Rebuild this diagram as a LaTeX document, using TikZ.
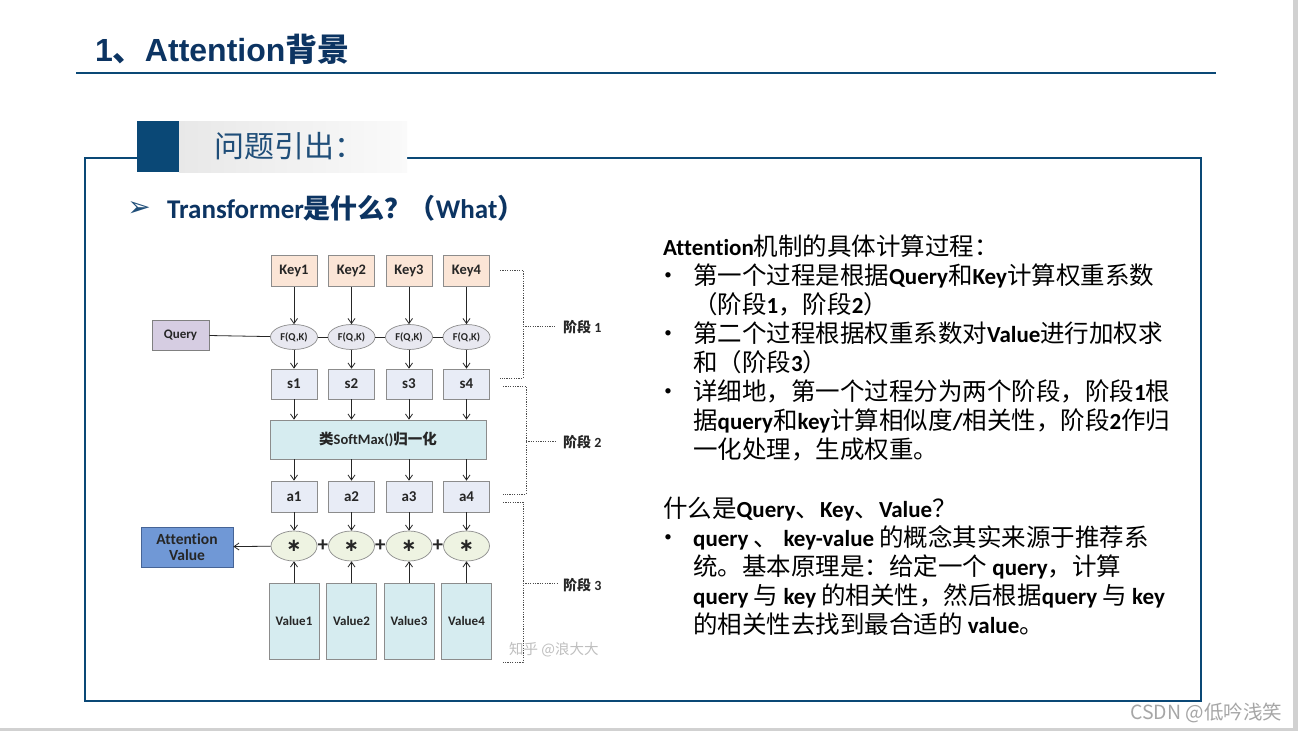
\documentclass[tikz,border=0pt]{standalone}
\usepackage{fontspec}
\setmainfont{Carlito}[Ligatures=NoCommon]
\newfontfamily\cjk{Noto Sans CJK SC}
\newfontfamily\arialf{Liberation Sans}
\newfontfamily\dejavu{DejaVu Sans}
\usetikzlibrary{arrows.meta,shapes.geometric,calc}
\definecolor{navy}{RGB}{12,52,98}
\definecolor{tabtext}{RGB}{31,78,121}
\definecolor{frameblue}{RGB}{10,72,118}
\definecolor{keyfill}{RGB}{251,229,214}
\definecolor{sfill}{RGB}{232,236,246}
\definecolor{ffill}{RGB}{232,232,240}
\definecolor{qfill}{RGB}{214,205,226}
\definecolor{cyanfill}{RGB}{214,236,240}
\definecolor{mfill}{RGB}{238,243,226}
\definecolor{avfill}{RGB}{112,152,214}
\definecolor{avborder}{RGB}{70,100,150}
\definecolor{bordergray}{RGB}{140,140,140}
\newcommand{\fsz}[1]{\fontsize{#1}{#1}\selectfont}
\newcommand{\R}[1]{{\cjk\mdseries\fontsize{24.5}{29}\selectfont #1}}
\begin{document}
\begin{tikzpicture}[x=1pt,y=-1pt,
 bx/.style={draw=bordergray, line width=0.7pt, inner sep=0pt, font=\bfseries\fsz{14.5}, text=black!85},
 keybox/.style={bx, fill=keyfill, minimum width=46pt, minimum height=31pt},
 sbox/.style={bx, fill=sfill, minimum width=46pt, minimum height=30pt, font=\bfseries\fsz{15}},
 fell/.style={ellipse, draw=bordergray, line width=0.7pt, fill=ffill, minimum width=47pt, minimum height=25pt, inner sep=0pt, font=\bfseries\fsz{10.5}, text=black!85},
 mell/.style={ellipse, draw=bordergray, line width=0.7pt, fill=mfill, minimum width=46pt, minimum height=30pt, inner sep=0pt, font=\dejavu\bfseries\fsz{18}, text=black!85},
 vbox/.style={bx, fill=cyanfill, minimum width=50pt, minimum height=76pt, font=\bfseries\fsz{13}},
 arr/.style={-{Straight Barb[length=5pt,width=7pt]}, line width=0.8pt, draw=black!85},
 plainln/.style={line width=0.8pt, draw=black!85},
 brk/.style={line width=1pt, draw=black!70, dash pattern=on 1.2pt off 1.2pt},
 stagelbl/.style={anchor=west, inner sep=0pt, font=\bfseries\fsz{14}, text=black!85},
 rt/.style={anchor=base west, inner sep=0pt, font=\bfseries\fsz{23}, text=black},
 bul/.style={inner sep=0pt, font=\fsz{15}, text=black},
 plus/.style={inner sep=0pt, font=\bfseries\fsz{21}, text=black!85}
]
\useasboundingbox (0,0) rectangle (1298,731);
\fill[white] (0,0) rectangle (1298,731);
\fill[black!18] (1293,0) rectangle (1298,731);
\fill[black!18] (0,728) rectangle (1298,731);

% title
\node[anchor=base west, inner sep=0pt, text=navy, font=\arialf\bfseries\fsz{32}] (title) at (95,61) {1{\cjk 、}Attention{\cjk 背景}};
\coordinate (ulA) at (76,73);
\coordinate (ulB) at (1216,73);
\draw[line width=2pt, draw=frameblue] (ulA) -- (ulB);

% frame
\draw[line width=2pt, draw=frameblue] (85,158) rectangle (1201,701);

% tab
\fill[left color=black!9, right color=black!2] (179,121) rectangle (407,172);
\fill[frameblue] (137,121) rectangle (179,172);
\node[anchor=west, inner sep=0pt, text=tabtext, font=\cjk\fsz{30}] (tab) at (214,146) {问题引出：};

% subheading
\node[inner sep=0pt, text=tabtext, font=\dejavu\fsz{28}] (arrowbullet) at (139,209) {➢};
\node[anchor=base west, inner sep=0pt, text=navy, font=\bfseries\fsz{27}] (sub) at (167,218) {Transformer{\cjk 是什么？\hspace{-3pt}（}What{\cjk ）}};

% ---------- diagram ----------
\foreach \i/\x in {1/294,2/351.5,3/409,4/466.5}{
  \node[keybox] (k\i) at (\x,271) {Key\i};
  \node[fell] (f\i) at (\x,337) {F(Q,K)};
  \node[sbox] (s\i) at (\x,384) {s\i};
  \node[sbox, minimum height=31pt] (a\i) at (\x,496.5) {a\i};
  \node[mell] (m\i) at (\x,546) {∗};
  \node[vbox] (v\i) at (\x,621) {Value\i};
}
\node[bx, fill=qfill, draw=black!50, minimum width=57pt, minimum height=30pt, font=\bfseries\fsz{13}] (q) at (180.5,335) {Query};
\node[bx, fill=cyanfill, minimum width=216pt, minimum height=39pt] (sm) at (378,439.5) {{\cjk 类}SoftMax(){\cjk 归一化}};
\node[bx, fill=avfill, draw=avborder, minimum width=92pt, minimum height=40pt, align=center, font=\bfseries\fontsize{15.5}{16}\selectfont] (av) at (187,547) {Attention\\Value};

\draw[plainln] (q) -- (f1);
\draw[plainln] (f1) -- (f2);
\draw[plainln] (f2) -- (f3);
\draw[plainln] (f3) -- (f4);
\foreach \i in {1,2,3,4}{
  \draw[arr] (k\i) -- (f\i);
  \draw[arr] (f\i) -- (s\i);
  \draw[arr] (s\i.south) -- (s\i.south |- sm.north);
  \draw[arr] (a\i.north |- sm.south) -- (a\i.north);
  \draw[arr] (a\i) -- (m\i);
  \draw[arr] (v\i) -- (m\i);
}
\draw[arr] (m1) -- (av);
\node[plus] (p1) at ($(m1.east)!0.5!(m2.west)$) {+};
\node[plus] (p2) at ($(m2.east)!0.5!(m3.west)$) {+};
\node[plus] (p3) at ($(m3.east)!0.5!(m4.west)$) {+};

% stage brackets
\coordinate (b1a) at (500,270); \coordinate (b1b) at (523,270);
\coordinate (b1c) at (523,378); \coordinate (b1d) at (500,378);
\coordinate (b1m) at (523,326); \coordinate (b1t) at (555,326);
\draw[brk] (b1a) -- (b1b) -- (b1c) -- (b1d);
\draw[brk] (b1m) -- (b1t);
\node[stagelbl] (st1) at (563,327) {{\cjk 阶段} 1};

\coordinate (b2a) at (503,386); \coordinate (b2b) at (526,386);
\coordinate (b2c) at (526,494); \coordinate (b2d) at (503,494);
\coordinate (b2m) at (526,441); \coordinate (b2t) at (555,441);
\draw[brk] (b2a) -- (b2b) -- (b2c) -- (b2d);
\draw[brk] (b2m) -- (b2t);
\node[stagelbl] (st2) at (563,442) {{\cjk 阶段} 2};

\coordinate (b3a) at (503,502); \coordinate (b3b) at (523,502);
\coordinate (b3c) at (523,662); \coordinate (b3d) at (503,662);
\coordinate (b3m) at (523,583); \coordinate (b3t) at (557,583);
\draw[brk] (b3a) -- (b3b) -- (b3c) -- (b3d);
\draw[brk] (b3m) -- (b3t);
\node[stagelbl] (st3) at (563,585) {{\cjk 阶段} 3};

\node[anchor=west, inner sep=0pt, text=black!25, font=\cjk\fsz{14.5}] (wm1) at (509,650) {知乎 @浪大大};

% ---------- right text ----------
\node[rt] (r1) at (663,255) {Attention\R{机制的具体计算过程：}};
\node[bul] (bu1) at (668,276) {•};
\node[rt] (r2) at (693,284) {\R{第一个过程是根据}Query\R{和}Key\R{计算权重系数}};
\node[rt] (r3) at (693,313) {\R{（阶段}1\R{，阶段}2\R{）}};
\node[bul] (bu2) at (668,334) {•};
\node[rt] (r4) at (693,342) {\R{第二个过程根据权重系数对}Value\R{进行加权求}};
\node[rt] (r5) at (693,371) {\R{和（阶段}3\R{）}};
\node[bul] (bu3) at (668,392) {•};
\node[rt] (r6) at (693,400) {\R{详细地，第一个过程分为两个阶段，阶段}1\R{根}};
\node[rt] (r7) at (693,429) {\R{据}query\R{和}key\R{计算相似度}/\R{相关性，阶段}2\R{作归}};
\node[rt] (r8) at (693,458) {\R{一化处理，生成权重。}};

\node[rt] (r9) at (663,517) {\R{什么是}Query\R{、}Key\R{、}Value\R{？}};
\node[bul] (bu4) at (668,538) {•};
\node[rt] (r10) at (693,546) {query \R{、} key-value \R{的概念其实来源于推荐系}};
\node[rt] (r11) at (693,575) {\R{统。基本原理是：给定一个} query\R{，计算}};
\node[rt] (r12) at (693,604) {query \R{与} key \R{的相关性，然后根据}query \R{与} key};
\node[rt] (r13) at (693,633) {\R{的相关性去找到最合适的} value\R{。}};

\node[anchor=west, inner sep=0pt, text=black!35, font=\cjk\fsz{19.5}] (wm2) at (1130,713) {CSDN @低吟浅笑};
\end{tikzpicture}
\end{document}
